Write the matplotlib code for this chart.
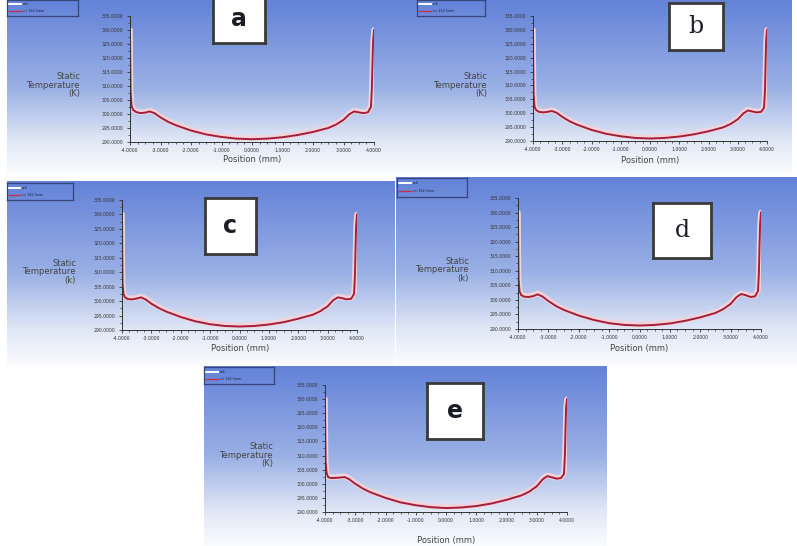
import matplotlib.pyplot as plt
from matplotlib.colors import LinearSegmentedColormap
from matplotlib.ticker import MultipleLocator, AutoMinorLocator
import numpy as np

W, H = 797, 546

# positions along the line (mm), shared by all five cases
pos = [-4.0, -3.99, -3.98, -3.95, -3.9, -3.8, -3.65, -3.5, -3.35, -3.2, -3.0,
       -2.75, -2.5, -2.0, -1.5, -1.0, -0.5, 0.0, 0.5, 1.0, 1.5, 2.0, 2.5,
       2.75, 3.0, 3.2, 3.35, 3.5, 3.65, 3.8, 3.9, 3.93, 3.95, 3.97, 4.0]

# static temperature (K), "z= 162.5mm" line
temp_a = [330.0, 318.0, 308.0, 303.0, 301.5, 300.7, 300.3, 300.5, 300.9, 300.3, 298.8,
          297.2, 296.0, 294.1, 292.7, 291.8, 291.2, 291.0, 291.2, 291.7, 292.5, 293.6, 295.0,
          296.2, 297.9, 300.0, 300.9, 300.6, 300.3, 300.6, 302.5, 309.0, 318.0, 326.0, 330.0]
temp_b = [330.0, 317.0, 307.0, 302.5, 301.2, 300.5, 300.3, 300.5, 300.8, 300.2, 298.7,
          297.1, 295.9, 294.0, 292.6, 291.7, 291.1, 290.9, 291.1, 291.6, 292.4, 293.5, 294.9,
          296.1, 297.8, 300.0, 301.0, 300.6, 300.3, 300.5, 302.0, 308.0, 317.0, 326.0, 330.0]
temp_c = [330.0, 316.0, 306.0, 302.5, 301.3, 300.7, 300.6, 300.9, 301.3, 300.6, 299.1,
          297.6, 296.4, 294.5, 293.0, 292.0, 291.4, 291.2, 291.4, 291.9, 292.7, 293.9, 295.3,
          296.5, 298.2, 300.4, 301.3, 301.0, 300.6, 300.8, 302.5, 309.0, 318.0, 326.0, 330.0]
temp_d = [330.0, 317.0, 307.0, 303.0, 301.7, 301.1, 301.0, 301.3, 301.9, 301.2, 299.6,
          297.9, 296.6, 294.6, 293.1, 292.0, 291.4, 291.2, 291.4, 291.9, 292.8, 294.0, 295.5,
          296.8, 298.6, 301.0, 302.0, 301.6, 301.0, 301.2, 303.0, 309.0, 318.0, 326.0, 330.0]
temp_e = [330.0, 318.0, 308.0, 304.0, 302.4, 302.0, 302.1, 302.2, 302.4, 301.6, 300.0,
          298.3, 297.0, 295.0, 293.4, 292.4, 291.7, 291.4, 291.6, 292.1, 293.0, 294.3, 295.9,
          297.2, 299.1, 301.6, 302.7, 302.3, 301.8, 302.0, 303.5, 310.0, 319.0, 327.0, 330.0]

# "cell" line, sitting just above the red one
cell_a = [330.0, 318.0, 308.0, 303.2, 301.8, 301.0, 300.6, 300.8, 301.2, 300.6, 299.1,
          297.5, 296.3, 294.4, 293.0, 292.1, 291.5, 291.3, 291.5, 292.0, 292.8, 293.9, 295.3,
          296.5, 298.2, 300.3, 301.2, 300.9, 300.6, 300.9, 302.8, 309.0, 318.0, 326.0, 330.0]
cell_b = [330.0, 317.0, 307.0, 302.7, 301.5, 300.8, 300.6, 300.8, 301.1, 300.5, 299.0,
          297.4, 296.2, 294.3, 292.9, 292.0, 291.4, 291.2, 291.4, 291.9, 292.7, 293.8, 295.2,
          296.4, 298.1, 300.3, 301.3, 300.9, 300.6, 300.8, 302.3, 308.0, 317.0, 326.0, 330.0]
cell_c = [330.0, 316.0, 306.0, 302.7, 301.6, 301.0, 300.9, 301.2, 301.6, 300.9, 299.4,
          297.9, 296.7, 294.8, 293.3, 292.3, 291.7, 291.5, 291.7, 292.2, 293.0, 294.2, 295.6,
          296.8, 298.5, 300.7, 301.6, 301.3, 300.9, 301.1, 302.8, 309.0, 318.0, 326.0, 330.0]
cell_d = [330.0, 317.0, 307.0, 303.2, 302.0, 301.4, 301.3, 301.6, 302.2, 301.5, 299.9,
          298.2, 296.9, 294.9, 293.4, 292.3, 291.7, 291.5, 291.7, 292.2, 293.1, 294.3, 295.8,
          297.1, 298.9, 301.3, 302.3, 301.9, 301.3, 301.5, 303.3, 309.0, 318.0, 326.0, 330.0]
cell_e = [330.0, 318.0, 308.0, 304.2, 302.7, 302.3, 302.4, 302.5, 302.7, 301.9, 300.3,
          298.6, 297.3, 295.3, 293.7, 292.7, 292.0, 291.7, 291.9, 292.4, 293.3, 294.6, 296.2,
          297.5, 299.4, 301.9, 303.0, 302.6, 302.1, 302.3, 303.8, 310.0, 319.0, 327.0, 330.0]

letters = ['a', 'b', 'c', 'd', 'e']
legend_labels = ['cell', 'z= 162.5mm']
ylabel_units = ['(K)', '(K)', '(k)', '(k)', '(K)']


def rect(x0, y0, x1, y1):
    return [x0 / W, 1 - y1 / H, (x1 - x0) / W, (y1 - y0) / H]


fig = plt.figure(figsize=(W / 100, H / 100), dpi=100)
fig.patch.set_facecolor('white')

bg_cmap = LinearSegmentedColormap.from_list(
    'bg', [(0, '#6382d8'), (0.5, '#9ab0e5'), (0.8, '#dfe6f5'), (1, '#fbfcfe')])
grad = np.linspace(0, 1, 256).reshape(-1, 1)

# panel layout in pixels: background, axes, legend, letter box, labels
panels = [
    dict(bg=(7, 0, 398, 175), ax=(130, 16, 374, 142), leg=(7, 0, 78, 16),
         box=(213, -4, 265, 43), ylab=(80, 85), xlab=(252, 159)),
    dict(bg=(398, 0, 792, 175), ax=(533, 16, 767, 141), leg=(417, 0, 485, 16),
         box=(669, 3, 723, 50), ylab=(487, 85), xlab=(650, 160)),
    dict(bg=(7, 181, 395, 366), ax=(122, 200, 357, 330), leg=(7, 183, 73, 200),
         box=(205, 198, 256, 254), ylab=(76, 272), xlab=(240, 348)),
    dict(bg=(396, 177, 797, 366), ax=(518, 198, 761, 329), leg=(397, 178, 467, 197),
         box=(653, 203, 711, 258), ylab=(469, 270), xlab=(639, 348)),
    dict(bg=(204, 366, 607, 546), ax=(325, 385, 567, 512), leg=(204, 367, 274, 384),
         box=(427, 383, 483, 439), ylab=(273, 455), xlab=(446, 540)),
]
temps = [temp_a, temp_b, temp_c, temp_d, temp_e]
cells = [cell_a, cell_b, cell_c, cell_d, cell_e]
letter_fonts = [('DejaVu Sans', 'bold'), ('DejaVu Serif', 'normal'),
                ('DejaVu Sans', 'bold'), ('DejaVu Serif', 'normal'),
                ('DejaVu Sans', 'bold')]

for i, p in enumerate(panels):
    bg = fig.add_axes(rect(*p['bg']))
    bg.imshow(grad, aspect='auto', cmap=bg_cmap, extent=(0, 1, 0, 1))
    bg.axis('off')

    ax = fig.add_axes(rect(*p['ax']))
    ax.patch.set_alpha(0)
    ax.plot(pos, cells[i], color='#f3d3da', lw=4.0, solid_capstyle='round')
    ax.plot(pos, temps[i], color='#a21f3c', lw=1.4)
    ax.set_xlim(-4.0, 4.0)
    ax.set_ylim(290, 335)
    ax.xaxis.set_major_locator(MultipleLocator(1))
    ax.yaxis.set_major_locator(MultipleLocator(5))
    ax.xaxis.set_minor_locator(AutoMinorLocator(4))
    ax.yaxis.set_minor_locator(AutoMinorLocator(2))
    ax.xaxis.set_major_formatter(lambda v, _: f'{v:.4f}')
    ax.yaxis.set_major_formatter(lambda v, _: f'{v:.4f}')
    ax.tick_params(which='major', labelsize=3.3, length=2.5, width=0.6,
                   colors='#333333', pad=2)
    ax.tick_params(which='minor', length=1.3, width=0.5, colors='#333333')
    for s in ['top', 'right']:
        ax.spines[s].set_visible(False)
    for s in ['left', 'bottom']:
        ax.spines[s].set_color('#333333')
        ax.spines[s].set_linewidth(0.7)

    fig.text(p['ylab'][0] / W, 1 - p['ylab'][1] / H,
             'Static\nTemperature\n' + ylabel_units[i],
             ha='right', va='center', multialignment='right',
             fontsize=6, color='#444444', linespacing=0.95)
    fig.text(p['xlab'][0] / W, 1 - p['xlab'][1] / H, 'Position (mm)',
             ha='center', va='center', fontsize=6, color='#444444')

    # legend box
    lg = fig.add_axes(rect(*p['leg']))
    lg.set_xlim(0, 1)
    lg.set_ylim(0, 1)
    lg.patch.set_alpha(0)
    lg.set_xticks([])
    lg.set_yticks([])
    for s in lg.spines.values():
        s.set_color('#34457c')
        s.set_linewidth(0.9)
    lg.plot([0.03, 0.2], [0.72, 0.72], color='white', lw=1.4)
    lg.plot([0.03, 0.2], [0.3, 0.3], color='#c03050', lw=1.0)
    lg.text(0.23, 0.72, legend_labels[0], fontsize=2.3, va='center', color='#1a2040')
    lg.text(0.23, 0.3, legend_labels[1], fontsize=2.3, va='center', color='#1a2040')

    # letter label box
    x0, y0, x1, y1 = p['box']
    sh = fig.add_axes(rect(x0 + 2, y0 + 2, x1 + 2, y1 + 2))
    sh.set_facecolor('#8890a0')
    sh.set_xticks([])
    sh.set_yticks([])
    for s in sh.spines.values():
        s.set_visible(False)
    bx = fig.add_axes(rect(x0, y0, x1, y1))
    bx.set_facecolor('white')
    bx.set_xticks([])
    bx.set_yticks([])
    for s in bx.spines.values():
        s.set_color('#3a3a3a')
        s.set_linewidth(2.0)
    fam, wt = letter_fonts[i]
    bx.text(0.5, 0.5, letters[i], ha='center', va='center', fontsize=17,
            family=fam, weight=wt, color='#1c1c28', transform=bx.transAxes)

fig.savefig('out.png', dpi=100)
